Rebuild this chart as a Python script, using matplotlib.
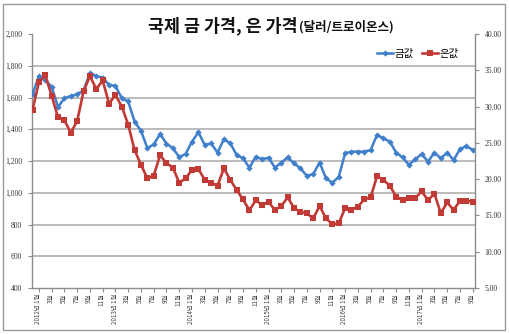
import matplotlib
matplotlib.use("Agg")
import matplotlib.pyplot as plt
import matplotlib.transforms as mtransforms
from matplotlib.patches import Rectangle
from matplotlib.ticker import FuncFormatter

plt.rcParams['font.family'] = ['Noto Sans CJK KR', 'DejaVu Sans']

# Monthly prices, January 2012 onwards (USD per troy ounce)
start_year = 2012
gold = [1620, 1735, 1710, 1668, 1540, 1595, 1610, 1620, 1645, 1755, 1735, 1725,
        1680, 1673, 1595, 1575, 1448, 1390, 1282, 1304, 1370, 1310, 1280, 1225,
        1245, 1322, 1381, 1301, 1311, 1253, 1337, 1311, 1238, 1217, 1158, 1227,
        1211, 1221, 1158, 1190, 1223, 1185, 1154, 1106, 1118, 1190, 1091, 1063,
        1100, 1248, 1259, 1259, 1259, 1269, 1364, 1343, 1322, 1253, 1223, 1175,
        1211, 1244, 1196, 1253, 1217, 1253, 1206, 1274, 1295, 1269]
silver = [29.5, 33.4, 34.3, 31.5, 28.5, 28.1, 26.4, 28.0, 32.1, 34.2, 32.4, 33.6,
          30.4, 31.6, 30.0, 27.5, 24.0, 22.0, 20.1, 20.5, 23.3, 22.2, 21.6, 19.5,
          20.1, 21.3, 21.4, 19.9, 19.5, 19.1, 21.5, 19.9, 18.5, 17.2, 15.7, 17.1,
          16.4, 16.9, 15.7, 16.3, 17.5, 16.0, 15.5, 15.3, 14.6, 16.3, 14.6, 13.8,
          13.9, 16.0, 15.8, 16.2, 17.2, 17.5, 20.4, 19.9, 19.1, 17.6, 17.1, 17.4,
          17.4, 18.3, 17.1, 18.0, 15.3, 16.8, 15.75, 17.0, 17.0, 16.9]

gold_ticks = [400, 600, 800, 1000, 1200, 1400, 1600, 1800, 2000]
silver_ticks = [5, 10, 15, 20, 25, 30, 35, 40]
series_names = ['금값', '은값']
title_main = '국제 금 가격, 은 가격'
title_unit = '(달러/트로이온스)'

n = len(gold)
idx = list(range(n))
month_labels = []
for i in idx[::2]:
    yr, mo = divmod(i, 12)
    if mo == 0:
        month_labels.append(f'{start_year + yr}년 1월')
    else:
        month_labels.append(f'{mo + 1}월')

W, H = 510, 334
fig = plt.figure(figsize=(W / 100, H / 100), dpi=100)
fig.patch.set_facecolor('white')

ax = fig.add_axes([32 / W, 1 - 288 / H, 443 / W, 254 / H])
ax2 = ax.twinx()

grey = '#8c8c8c'
grid_c = '#a8a8a8'
blue = '#3f7fcc'
red = '#c23a35'

# horizontal gridlines on the gold scale
for v in gold_ticks[1:-1]:
    ax.axhline(v, color=grid_c, lw=1.1, zorder=0)

line_g, = ax.plot(idx, gold, color=blue, lw=1.8, marker='D', markersize=3.2,
                  markeredgewidth=0, zorder=3)
line_s, = ax2.plot(idx, silver, color=red, lw=1.9, marker='s', markersize=3.9,
                   markeredgewidth=0, zorder=3)

ax.set_xlim(-0.08, 69.36)
ax.set_ylim(gold_ticks[0], gold_ticks[-1])
ax2.set_ylim(silver_ticks[0], silver_ticks[-1])

ax.set_yticks(gold_ticks)
ax.yaxis.set_major_formatter(FuncFormatter(lambda v, p: f'{int(v):,}'))
ax2.set_yticks(silver_ticks)
ax2.yaxis.set_major_formatter(FuncFormatter(lambda v, p: f'{v:.2f}'))

serif = ['Liberation Serif', 'DejaVu Serif']
for lab in ax.get_yticklabels() + ax2.get_yticklabels():
    lab.set_fontfamily(serif)
    lab.set_fontsize(5.5)
    lab.set_color('#333333')

ax.tick_params(axis='y', which='major', direction='out', length=3, width=0.8,
               color=grey, pad=4)
ax2.tick_params(axis='y', which='major', direction='out', length=3, width=0.8,
                color=grey, pad=4)

# category ticks at every month, labels every second month
ax.set_xticks(idx, minor=True)
ax.set_xticks(idx[::2])
ax.set_xticklabels(month_labels, rotation=90, fontsize=4.5, color='#444444',
                   va='top', ha='center')
ax.tick_params(axis='x', which='minor', direction='out', length=3, width=0.8,
               color=grey)
ax.tick_params(axis='x', which='major', length=0, pad=4)
shift = mtransforms.ScaledTranslation(5.5 / 100, 0, fig.dpi_scale_trans)
for lab in ax.get_xticklabels():
    lab.set_transform(lab.get_transform() + shift)

for a in (ax, ax2):
    a.spines['top'].set_visible(False)
    for s in ('left', 'right', 'bottom'):
        a.spines[s].set_color(grey)
        a.spines[s].set_linewidth(1.0)
ax.spines['right'].set_visible(False)
ax2.spines['left'].set_visible(False)
ax2.spines['bottom'].set_visible(False)

leg = ax2.legend([line_g, line_s], series_names, loc='upper right',
                 bbox_to_anchor=(459 / W, 1 - 49 / H),
                 bbox_transform=fig.transFigure, ncol=2, frameon=False,
                 fontsize=7.5, handlelength=1.6, handletextpad=0.15,
                 columnspacing=0.7, borderaxespad=0, borderpad=0)

# title: main part plus smaller unit suffix on the same baseline
t1 = fig.text(148 / W, 1 - 31 / H, title_main, fontsize=12.5, weight='bold',
              va='baseline', ha='left', color='#111111')
renderer = fig.canvas.get_renderer()
bb = t1.get_window_extent(renderer=renderer)
fig.text((bb.x1 + 1) / W, 1 - 31 / H, title_unit, fontsize=9, weight='bold',
         va='baseline', ha='left', color='#111111')

fig.add_artist(Rectangle((3 / W, 4 / H), 502 / W, 326 / H,
                         transform=fig.transFigure, fill=False,
                         edgecolor='#9a9a9a', lw=1.0))

fig.savefig('out.png', dpi=100)
